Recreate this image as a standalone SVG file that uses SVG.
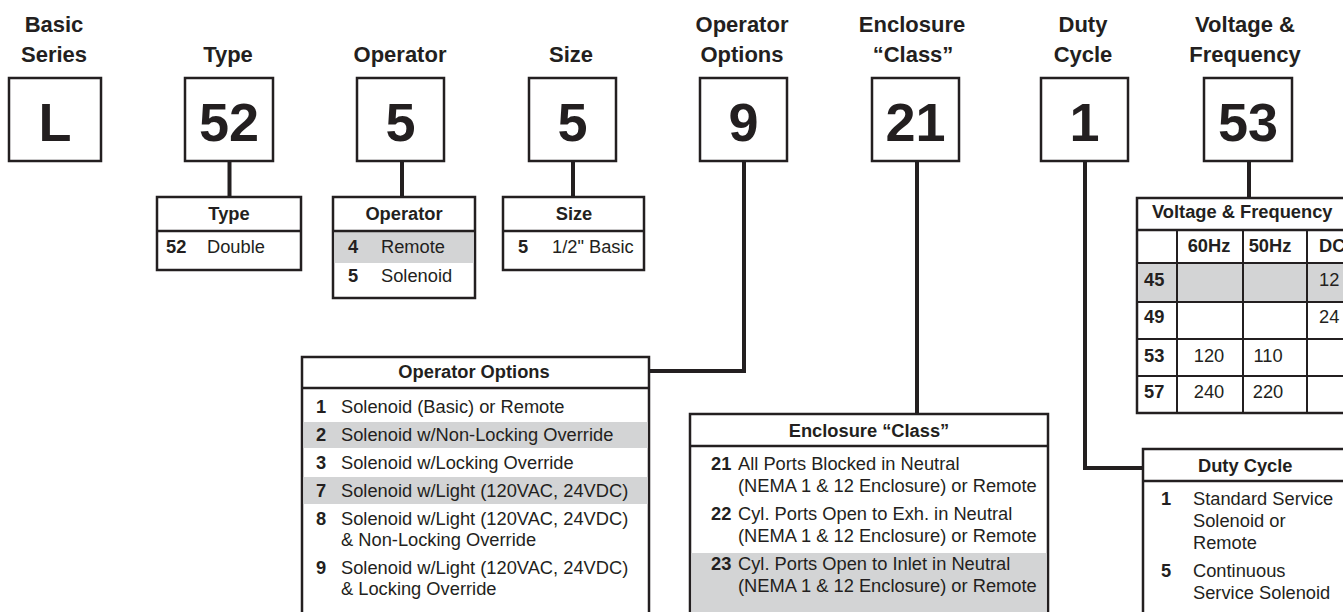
<svg xmlns="http://www.w3.org/2000/svg" width="1343" height="612" viewBox="0 0 1343 612">
<style>
  text { font-family: "Liberation Sans", Arial, sans-serif; fill: #231f20; }
  .lbl { font-size: 22px; font-weight: bold; text-anchor: middle; }
  .big { font-size: 54px; font-weight: bold; text-anchor: middle; }
  .box { fill: #fff; stroke: #231f20; stroke-width: 2.5; }
  .tbl { fill: #fff; stroke: #231f20; stroke-width: 2.5; }
  .div { stroke: #231f20; stroke-width: 2.5; fill: none; }
  .grid { stroke: #231f20; stroke-width: 2; fill: none; }
  .shade { fill: #d3d4d5; }
  .hd { font-size: 18.3px; font-weight: bold; text-anchor: middle; }
  .hds { font-size: 18.3px; font-weight: bold; }
  .num { font-size: 18.3px; font-weight: bold; }
  .txt { font-size: 18.3px; }
  .mid { text-anchor: middle; }
  .conn { stroke: #231f20; stroke-width: 4; fill: none; }
</style>

<g id="connectors">
  <path class="conn" d="M229.5 161 V198"/>
  <path class="conn" d="M402 161 V198"/>
  <path class="conn" d="M573 161 V198"/>
  <path class="conn" d="M1249 161 V199"/>
  <path class="conn" d="M744 161 V371 H649"/>
  <path class="conn" d="M917 161 V415"/>
  <path class="conn" d="M1085 161 V468 H1143"/>
</g>

<g id="node-basic-series">
  <text class="lbl" x="54" y="32">Basic</text>
  <text class="lbl" x="54" y="62">Series</text>
  <rect class="box" x="9" y="78" width="92" height="83"/>
  <text class="big" x="55" y="141">L</text>
</g>

<g id="node-type">
  <text class="lbl" x="228" y="62">Type</text>
  <rect class="box" x="185" y="78" width="88" height="83"/>
  <text class="big" x="229" y="141">52</text>
</g>

<g id="node-operator">
  <text class="lbl" x="400" y="62">Operator</text>
  <rect class="box" x="357" y="78" width="87" height="83"/>
  <text class="big" x="400.5" y="141">5</text>
</g>

<g id="node-size">
  <text class="lbl" x="571" y="62">Size</text>
  <rect class="box" x="529" y="78" width="87" height="83"/>
  <text class="big" x="572.5" y="141">5</text>
</g>

<g id="node-operator-options">
  <text class="lbl" x="742" y="32">Operator</text>
  <text class="lbl" x="742" y="62">Options</text>
  <rect class="box" x="700" y="78" width="87" height="83"/>
  <text class="big" x="743.5" y="141">9</text>
</g>

<g id="node-enclosure">
  <text class="lbl" x="912" y="32">Enclosure</text>
  <text class="lbl" x="913" y="62">“Class”</text>
  <rect class="box" x="872" y="78" width="87" height="83"/>
  <text class="big" x="915.5" y="141">21</text>
</g>

<g id="node-duty-cycle">
  <text class="lbl" x="1083" y="32">Duty</text>
  <text class="lbl" x="1083" y="62">Cycle</text>
  <rect class="box" x="1041" y="78" width="87" height="83"/>
  <text class="big" x="1084.5" y="141">1</text>
</g>

<g id="node-voltage">
  <text class="lbl" x="1245" y="32">Voltage &amp;</text>
  <text class="lbl" x="1245" y="62">Frequency</text>
  <rect class="box" x="1204" y="78" width="88" height="83"/>
  <text class="big" x="1248" y="141">53</text>
</g>

<g id="table-type">
  <rect class="tbl" x="157" y="197" width="144" height="73"/>
  <line class="div" x1="157" y1="231" x2="301" y2="231"/>
  <text class="hd" x="229" y="220">Type</text>
  <text class="num" x="166" y="253">52</text>
  <text class="txt" x="207" y="253">Double</text>
</g>

<g id="table-operator">
  <rect class="tbl" x="333" y="197" width="142" height="101"/>
  <rect class="shade" x="334.5" y="231" width="139" height="32"/>
  <line class="div" x1="333" y1="231" x2="475" y2="231"/>
  <text class="hd" x="404" y="220">Operator</text>
  <text class="num" x="348" y="253">4</text>
  <text class="txt" x="381" y="253">Remote</text>
  <text class="num" x="348" y="282">5</text>
  <text class="txt" x="381" y="282">Solenoid</text>
</g>

<g id="table-size">
  <rect class="tbl" x="503" y="197" width="141" height="73"/>
  <line class="div" x1="503" y1="231" x2="644" y2="231"/>
  <text class="hd" x="574" y="220">Size</text>
  <text class="num" x="518" y="253">5</text>
  <text class="txt" x="552" y="253">1/2"  Basic</text>
</g>

<g id="table-operator-options">
  <rect class="tbl" x="302" y="357" width="347" height="290"/>
  <rect class="shade" x="303.5" y="422" width="344" height="26"/>
  <rect class="shade" x="303.5" y="477" width="344" height="27"/>
  <line class="div" x1="302" y1="388" x2="649" y2="388"/>
  <text class="hd" x="474" y="378">Operator Options</text>
  <text class="num" x="316" y="413">1</text>
  <text class="txt" x="341" y="413">Solenoid (Basic) or Remote</text>
  <text class="num" x="316" y="441">2</text>
  <text class="txt" x="341" y="441">Solenoid w/Non-Locking Override</text>
  <text class="num" x="316" y="469">3</text>
  <text class="txt" x="341" y="469">Solenoid w/Locking Override</text>
  <text class="num" x="316" y="497">7</text>
  <text class="txt" x="341" y="497">Solenoid w/Light (120VAC, 24VDC)</text>
  <text class="num" x="316" y="525">8</text>
  <text class="txt" x="341" y="525">Solenoid w/Light (120VAC, 24VDC)</text>
  <text class="txt" x="341" y="546">&amp; Non-Locking Override</text>
  <text class="num" x="316" y="574">9</text>
  <text class="txt" x="341" y="574">Solenoid w/Light (120VAC, 24VDC)</text>
  <text class="txt" x="341" y="595">&amp; Locking Override</text>
</g>

<g id="table-enclosure">
  <rect class="tbl" x="690" y="414" width="358" height="230"/>
  <rect class="shade" x="691.5" y="553" width="355" height="70"/>
  <line class="div" x1="690" y1="446" x2="1048" y2="446"/>
  <text class="hd" x="869" y="437">Enclosure “Class”</text>
  <text class="num" x="711" y="470">21</text>
  <text class="txt" x="738" y="470">All Ports Blocked in Neutral</text>
  <text class="txt" x="738" y="492">(NEMA 1 &amp; 12 Enclosure) or Remote</text>
  <text class="num" x="711" y="520">22</text>
  <text class="txt" x="738" y="520">Cyl. Ports Open to Exh. in Neutral</text>
  <text class="txt" x="738" y="542">(NEMA 1 &amp; 12 Enclosure) or Remote</text>
  <text class="num" x="711" y="570">23</text>
  <text class="txt" x="738" y="570">Cyl. Ports Open to Inlet in Neutral</text>
  <text class="txt" x="738" y="592">(NEMA 1 &amp; 12 Enclosure) or Remote</text>
</g>

<g id="table-duty-cycle">
  <rect class="tbl" x="1143" y="449" width="240" height="200"/>
  <line class="div" x1="1143" y1="481" x2="1383" y2="481"/>
  <text class="hds" x="1198" y="472">Duty Cycle</text>
  <text class="num" x="1161" y="505">1</text>
  <text class="txt" x="1193" y="505">Standard Service</text>
  <text class="txt" x="1193" y="527">Solenoid or</text>
  <text class="txt" x="1193" y="549">Remote</text>
  <text class="num" x="1161" y="577">5</text>
  <text class="txt" x="1193" y="577">Continuous</text>
  <text class="txt" x="1193" y="599">Service Solenoid</text>
</g>

<g id="table-voltage">
  <rect class="tbl" x="1137" y="198" width="240" height="215"/>
  <rect class="shade" x="1138.5" y="263" width="237" height="39"/>
  <line class="div" x1="1137" y1="230" x2="1377" y2="230"/>
  <path class="grid" d="M1177 230 V413 M1243 230 V413 M1307 230 V413 M1137 263 H1377 M1137 302 H1377 M1137 339 H1377 M1137 376 H1377"/>
  <text class="hds" x="1152" y="218">Voltage &amp; Frequency</text>
  <text class="hd" x="1209" y="252">60Hz</text>
  <text class="hd" x="1270" y="252">50Hz</text>
  <text class="hds" x="1319" y="252">DC</text>
  <text class="num" x="1144" y="286">45</text>
  <text class="txt" x="1319" y="286">12</text>
  <text class="num" x="1144" y="323">49</text>
  <text class="txt" x="1319" y="323">24</text>
  <text class="num" x="1144" y="362">53</text>
  <text class="txt mid" x="1209" y="362">120</text>
  <text class="txt mid" x="1268" y="362">110</text>
  <text class="num" x="1144" y="398">57</text>
  <text class="txt mid" x="1209" y="398">240</text>
  <text class="txt mid" x="1268" y="398">220</text>
</g>
</svg>
